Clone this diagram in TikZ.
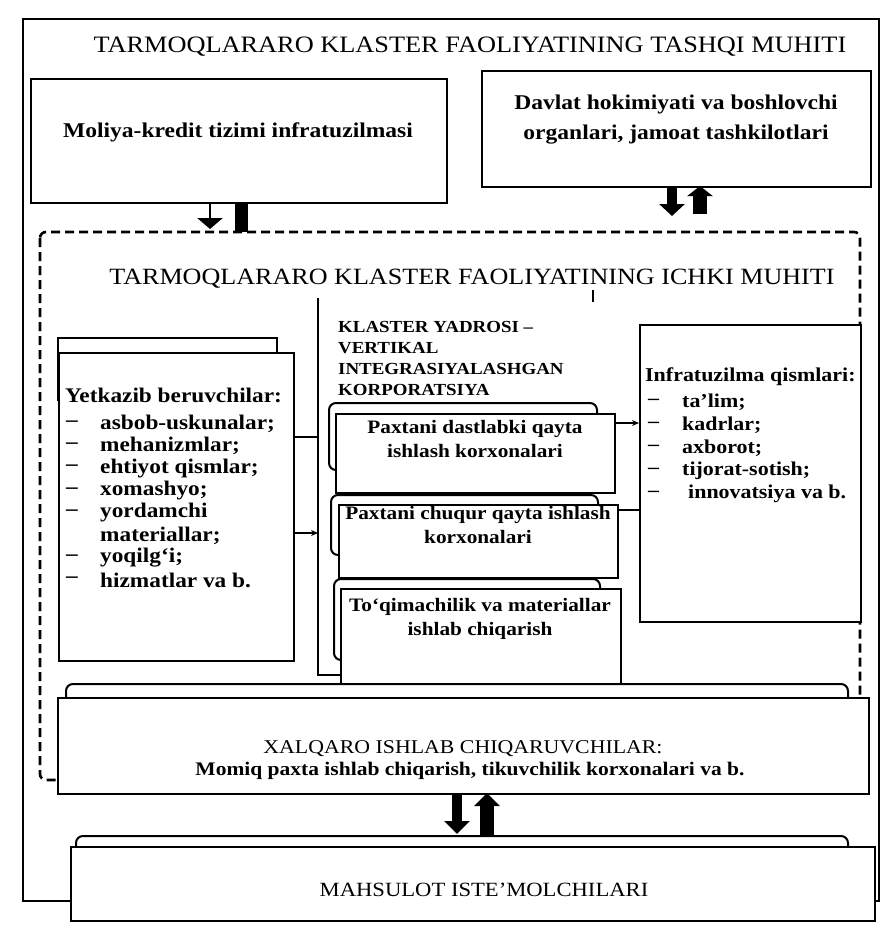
\documentclass[tikz,border=0pt]{standalone}
\usepackage{fontspec}
\setmainfont{Liberation Serif}[FakeStretch=1.12]
\usetikzlibrary{arrows.meta}
\begin{document}
\begin{tikzpicture}[x=1pt,y=-1pt]
\tikzset{
  box/.style={draw, line width=2.4pt, fill=white, anchor=north west, inner sep=0pt},
  backbox/.style={draw, line width=2pt, fill=white, rounded corners=7pt},
  dashbox/.style={draw, line width=2.6pt, dash pattern=on 9pt off 5pt, rounded corners=6pt},
  conn/.style={line width=1.4pt},
  connarrow/.style={line width=1.4pt, -{Stealth[length=7pt,width=6pt]}},
  bigtitle/.style={font=\fontsize{23.5}{28}\selectfont, inner sep=0pt},
  toptext/.style={font=\bfseries\fontsize{21}{30}\selectfont, align=center, inner sep=0pt},
  boxtext/.style={font=\bfseries\fontsize{19}{24}\selectfont, align=center, inner sep=0pt, anchor=north},
  listtext/.style={font=\bfseries\fontsize{20.8}{22}\selectfont, inner sep=0pt, anchor=west},
  inftext/.style={font=\bfseries\fontsize{19.6}{22}\selectfont, inner sep=0pt, anchor=west},
  coretext/.style={font=\bfseries\fontsize{16.9}{21}\selectfont, inner sep=0pt, anchor=west},
}
\useasboundingbox (0,0) rectangle (888,938);

% outer environment
\node[box, minimum width=856pt, minimum height=882pt] (outer) at (22,18) {};
\node[bigtitle] (t1) at (470,47) {TARMOQLARARO KLASTER FAOLIYATINING TASHQI MUHITI};

% top boxes
\node[box, minimum width=416pt, minimum height=124pt] (mol) at (30,78) {};
\node[toptext] (molt) at (238,132) {Moliya-kredit tizimi infratuzilmasi};
\node[box, minimum width=389pt, minimum height=116pt] (dav) at (481,70) {};
\node[toptext] (davt) at (676,120) {Davlat hokimiyati va boshlovchi\\organlari, jamoat tashkilotlari};

% inner environment (dashed)
\draw[dashbox] (40,232) rectangle (860,780);
\node[bigtitle, font=\fontsize{23.3}{28}\selectfont] (t2) at (472,279) {TARMOQLARARO KLASTER FAOLIYATINING ICHKI MUHITI};
\coordinate (tickA) at (593,290);
\coordinate (tickB) at (593,302);
\draw[line width=1.6pt] (tickA) -- (tickB);

% arrows between top boxes and inner environment
\coordinate (la1) at (210,202);
\coordinate (la2) at (210,229);
\draw[line width=2.6pt, -{Triangle[width=25pt,length=11pt]}] (la1) -- (la2);
\coordinate (lb1) at (241.5,232);
\coordinate (lb2) at (241.5,202);
\draw[line width=13pt] (lb1) -- (lb2);
\coordinate (ra1) at (672,186);
\coordinate (ra2) at (672,216);
\draw[line width=10pt, -{Triangle[width=25pt,length=12pt]}] (ra1) -- (ra2);
\coordinate (rb1) at (700,214);
\coordinate (rb2) at (700,186);
\draw[line width=14pt, -{Triangle[width=25pt,length=10pt]}] (rb1) -- (rb2);

% suppliers
\path[backbox, rounded corners=0pt] (58,338) rectangle (277,400);
\node[box, minimum width=235pt, minimum height=308pt] (sup) at (58,352) {};
\node[listtext] (suph) at (65,395) {Yetkazib beruvchilar:};
\foreach \t [count=\i] in {asbob-uskunalar;,mehanizmlar;,ehtiyot qismlar;,xomashyo;,yordamchi,materiallar;,yoqilg‘i;,hizmatlar va b.}{
  \node[listtext] (sup\i) at (100,{401+22.4*\i}) {\t};
}
\foreach \i in {1,2,3,4,5,7,8}{
  \node[listtext] (supd\i) at (66,{401+22.4*\i}) {–};
}

% cluster core
\coordinate (vtop) at (318,298);
\coordinate (vbot) at (318,675);
\node[coretext] (core1) at (338,327) {KLASTER YADROSI –};
\node[coretext] (core2) at (338,348) {VERTIKAL};
\node[coretext] (core3) at (338,369) {INTEGRASIYALASHGAN};
\node[coretext] (core4) at (338,390) {KORPORATSIYA};

\path[backbox] (329,403) rectangle (597,470);
\node[box, minimum width=279pt, minimum height=79pt] (b1) at (335,413) {};
\node[boxtext] (b1t) at (475,420) {Paxtani dastlabki qayta\\ishlash korxonalari};

\path[backbox] (331,495) rectangle (598,555);
\node[box, minimum width=279pt, minimum height=73pt] (b2) at (338,504) {};
\node[boxtext] (b2t) at (478,506) {Paxtani chuqur qayta ishlash\\korxonalari};

\path[backbox] (334,579) rectangle (600,660);
\node[box, minimum width=280pt, minimum height=97pt] (b3) at (340,588) {};
\node[boxtext] (b3t) at (480,598) {To‘qimachilik va materiallar\\ishlab chiqarish};

\draw[conn] (vtop) -- (vbot) -- (vbot -| b3.west);
\coordinate (s1) at (sup.east |- 0,437);
\draw[conn] (s1) -- (s1 -| vtop);
\coordinate (s2) at (sup.east |- 0,533);
\draw[connarrow] (s2) -- (s2 -| vtop);

% infrastructure
\node[box, minimum width=221pt, minimum height=297pt] (inf) at (639,324) {};
\node[inftext] (infh) at (645,377) {Infratuzilma qismlari:};
\foreach \t [count=\i] in {ta’lim;,kadrlar;,axborot;,tijorat-sotish;}{
  \node[inftext] (inf\i) at (682,{379+23*\i}) {\t};
}
\node[inftext] (inf5) at (688,{379+23*5}) {innovatsiya va b.};
\foreach \i in {1,...,5}{
  \node[inftext] (infd\i) at (648,{379+23*\i}) {–};
}
\coordinate (c1) at (b1.east |- 0,423);
\draw[connarrow] (c1) -- (c1 -| inf.west);
\coordinate (c2) at (b2.east |- 0,510);
\draw[conn] (c2) -- (c2 -| inf.west);

% international producers
\path[backbox] (66,684) rectangle (848,760);
\node[box, minimum width=811pt, minimum height=96pt] (xal) at (57,697) {};
\node[toptext, font=\fontsize{19.5}{24}\selectfont] (xalt) at (463,749) {XALQARO ISHLAB CHIQARUVCHILAR:};
\node[toptext, font=\bfseries\fontsize{19.2}{24}\selectfont] (xalm) at (470,771) {Momiq paxta ishlab chiqarish, tikuvchilik korxonalari va b.};

% consumers
\path[backbox] (76,836) rectangle (848,885);
\node[box, minimum width=804pt, minimum height=74pt] (mah) at (70,846) {};
\node[toptext, font=\fontsize{20.2}{24}\selectfont] (maht) at (484,890) {MAHSULOT ISTE’MOLCHILARI};

\coordinate (ma1) at (457,793);
\coordinate (ma2) at (457,834);
\draw[line width=10pt, -{Triangle[width=25pt,length=13pt]}] (ma1) -- (ma2);
\coordinate (mb1) at (487,835);
\coordinate (mb2) at (487,793);
\draw[line width=14pt, -{Triangle[width=25pt,length=13pt]}] (mb1) -- (mb2);
\end{tikzpicture}
\end{document}
